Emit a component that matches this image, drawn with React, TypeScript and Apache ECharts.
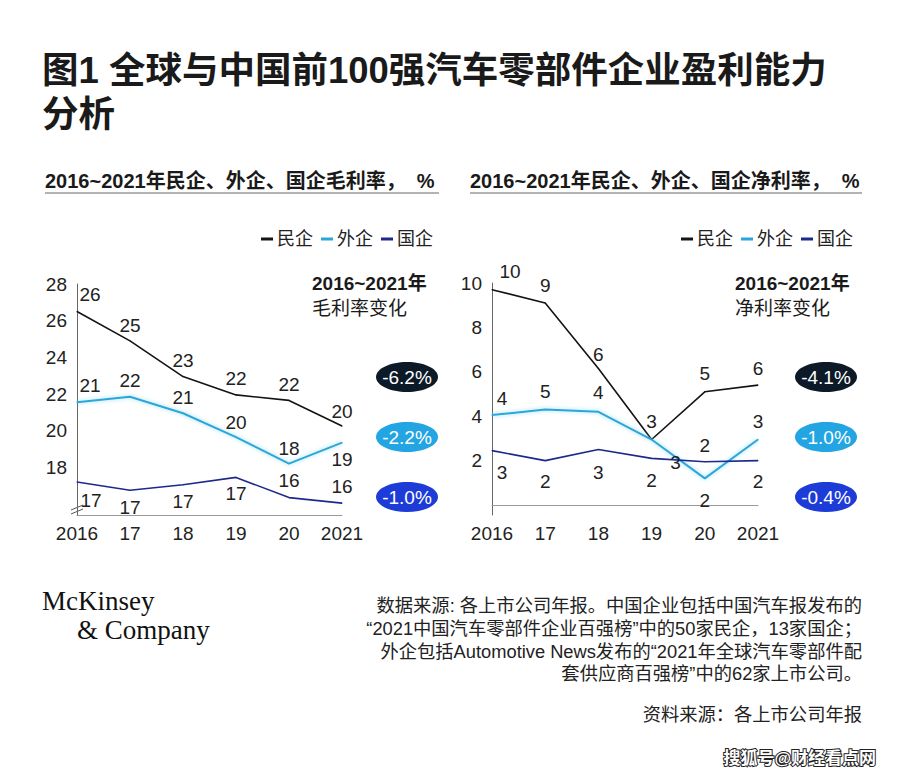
import React, { useEffect, useRef } from "react";
import * as echarts from "echarts";

const years = ["2016", "17", "18", "19", "20", "2021"];

// 毛利率 (gross margin), %
const grossPrivate = [26.5, 24.9, 22.95, 21.95, 21.65, 20.25];
const grossForeign = [21.55, 21.85, 20.95, 19.65, 18.2, 19.35];
const grossState = [17.2, 16.75, 17.05, 17.45, 16.35, 16.05];
const grossPrivateLabels = ["26", "25", "23", "22", "22", "20"];
const grossForeignLabels = ["21", "22", "21", "20", "18", "19"];
const grossStateLabels = ["17", "17", "17", "17", "16", "16"];

// 净利率 (net margin), %
const netPrivate = [9.7, 9.1, 6.15, 2.95, 5.1, 5.4];
const netForeign = [4.05, 4.3, 4.2, 2.95, 1.2, 2.95];
const netState = [2.45, 2.0, 2.5, 2.1, 1.95, 2.0];
const netPrivateLabels = ["10", "9", "6", "3", "5", "6"];
const netForeignLabels = ["4", "5", "4", "3", "2", "3"];
const netStateLabels = ["3", "2", "3", "2", "2", "2"];

const grossChange = ["-6.2%", "-2.2%", "-1.0%"];
const netChange = ["-4.1%", "-1.0%", "-0.4%"];

const grossTicks = [18, 20, 22, 24, 26, 28];
const netTicks = [2, 4, 6, 8, 10];

const seriesNames = ["民企", "外企", "国企"];

// label offsets (layout only)
const offGP = [[13, -17], [0, -15], [0, -16], [0, -16], [0, -16], [0, -15]];
const offGF = [[13, -17], [0, -16], [0, -16], [0, -15], [0, -15], [0, 17]];
const offGS = [[14, 18], [0, 17], [0, 17], [0, 16], [0, -17], [0, -17]];
const offNP = [[18, -18], [0, -17], [0, -14], [0, -18], [0, -18], [0, -17]];
const offNF = [[10, -17], [0, -18], [0, -19], [24, 23], [0, 22], [0, -18]];
const offNS = [[10, 22], [0, 21], [0, 23], [0, 22], [0, -16], [0, 21]];

const COLORS = ["#141414", "#2ba6d8", "#1d2a8c"];
const BADGE = ["#0c1a28", "#22a5e2", "#1d3bd6"];
const LATIN = '"Liberation Sans", Arial, "Noto Sans CJK SC", sans-serif';
const CJK = '"Liberation Sans", "Noto Sans CJK SC", sans-serif';
const SERIF = '"Liberation Serif", "DejaVu Serif", serif';

function makeSeries(
  name: string,
  values: number[],
  labels: string[],
  offs: number[][],
  idx: number,
  color: string,
  cyan: boolean
) {
  return {
    name,
    type: "line",
    xAxisIndex: idx,
    yAxisIndex: idx,
    symbol: "circle",
    symbolSize: 1,
    silent: true,
    emphasis: { disabled: true },
    itemStyle: { color },
    lineStyle: cyan
      ? { color, width: 2, shadowColor: "rgba(120,210,240,0.8)", shadowBlur: 4 }
      : { color, width: 1.6 },
    data: values.map((v, i) => ({
      value: v,
      label: { offset: offs[i] },
    })),
    label: {
      show: true,
      position: "inside",
      fontSize: 19,
      color: "#222",
      fontFamily: LATIN,
      formatter: (p: any) => labels[p.dataIndex],
    },
  };
}

function badge(cx: number, cy: number, color: string, text: string) {
  return {
    type: "group",
    children: [
      { type: "ellipse", shape: { cx, cy, rx: 31, ry: 15 }, style: { fill: color } },
      {
        type: "text",
        x: cx,
        y: cy,
        style: {
          text,
          fill: "#fff",
          fontSize: 19,
          fontFamily: LATIN,
          align: "center",
          verticalAlign: "middle",
        },
      },
    ],
  };
}

function txt(x: number, y: number, text: string, extra: any = {}) {
  return {
    type: "text",
    x,
    y,
    style: {
      text,
      fill: "#1a1a1a",
      fontFamily: CJK,
      verticalAlign: "middle",
      ...extra,
    },
  };
}

export default function App() {
  const ref = useRef<HTMLDivElement>(null);
  useEffect(() => {
    const chart = echarts.init(ref.current!, null, { renderer: "svg" });
    const axisX = (i: number) => ({
      gridIndex: i,
      type: "category",
      data: years,
      boundaryGap: false,
      axisLine: { lineStyle: { color: "#9a9a9a", width: 1 } },
      axisTick: { show: false },
      axisLabel: {
        fontSize: 19,
        color: "#222",
        margin: 9,
        fontFamily: LATIN,
        interval: 0,
        hideOverlap: false,
      },
    });
    const legend = (right: number) => ({
      right,
      top: 225,
      icon: "rect",
      itemWidth: 12,
      itemHeight: 3,
      itemGap: 8,
      selectedMode: false,
      data: seriesNames,
      textStyle: { fontSize: 18, color: "#222", fontFamily: CJK, padding: [0, 0, 0, -1] },
    });
    const option: any = {
      animation: false,
      backgroundColor: "#fff",
      grid: [
        { left: 77, top: 284, width: 265, height: 231 },
        { left: 492, top: 283, width: 266, height: 232 },
      ],
      xAxis: [axisX(0), axisX(1)],
      yAxis: [
        {
          gridIndex: 0,
          type: "value",
          min: 15.4,
          max: 28,
          splitLine: { show: false },
          axisLine: { show: true, lineStyle: { color: "#666" } },
          axisTick: { show: false },
          axisLabel: { customValues: grossTicks, fontSize: 19, color: "#222", margin: 10, fontFamily: LATIN },
        },
        {
          gridIndex: 1,
          type: "value",
          min: -0.45,
          max: 10,
          splitLine: { show: false },
          axisLine: { show: true, lineStyle: { color: "#666" } },
          axisTick: { show: false },
          axisLabel: { customValues: netTicks, fontSize: 19, color: "#222", margin: 10, fontFamily: LATIN },
        },
      ],
      legend: [legend(462), legend(42)],
      series: [
        makeSeries(seriesNames[0], grossPrivate, grossPrivateLabels, offGP, 0, COLORS[0], false),
        makeSeries(seriesNames[1], grossForeign, grossForeignLabels, offGF, 0, COLORS[1], true),
        makeSeries(seriesNames[2], grossState, grossStateLabels, offGS, 0, COLORS[2], false),
        makeSeries(seriesNames[0], netPrivate, netPrivateLabels, offNP, 1, COLORS[0], false),
        makeSeries(seriesNames[1], netForeign, netForeignLabels, offNF, 1, COLORS[1], true),
        makeSeries(seriesNames[2], netState, netStateLabels, offNS, 1, COLORS[2], false),
      ],
      graphic: [
        txt(42, 70, "图1 全球与中国前100强汽车零部件企业盈利能力", { fontSize: 36.5, fontWeight: "bold" }),
        txt(42, 114, "分析", { fontSize: 36.5, fontWeight: "bold" }),
        txt(45, 181, "2016~2021年民企、外企、国企毛利率，  %", { fontSize: 20, fontWeight: "bold" }),
        txt(470, 181, "2016~2021年民企、外企、国企净利率，  %", { fontSize: 20, fontWeight: "bold" }),
        { type: "line", shape: { x1: 45, y1: 193, x2: 439, y2: 193 }, style: { stroke: "#9a9a9a", lineWidth: 1.5 } },
        { type: "line", shape: { x1: 470, y1: 193, x2: 862, y2: 193 }, style: { stroke: "#9a9a9a", lineWidth: 1.5 } },
        txt(312, 283, "2016~2021年", { fontSize: 19, fontWeight: "bold" }),
        txt(312, 308, "毛利率变化", { fontSize: 19 }),
        txt(735, 283, "2016~2021年", { fontSize: 19, fontWeight: "bold" }),
        txt(735, 308, "净利率变化", { fontSize: 19 }),
        badge(407, 377, BADGE[0], grossChange[0]),
        badge(407, 437, BADGE[1], grossChange[1]),
        badge(407, 497, BADGE[2], grossChange[2]),
        badge(826, 377, BADGE[0], netChange[0]),
        badge(826, 437, BADGE[1], netChange[1]),
        badge(826, 497, BADGE[2], netChange[2]),
        { type: "line", shape: { x1: 71, y1: 510, x2: 83, y2: 505 }, style: { stroke: "#555", lineWidth: 1 } },
        { type: "line", shape: { x1: 71, y1: 514, x2: 83, y2: 509 }, style: { stroke: "#555", lineWidth: 1 } },
        txt(42, 601, "McKinsey", { fontSize: 27, fontFamily: SERIF, fill: "#111" }),
        txt(77, 630, "& Company", { fontSize: 27, fontFamily: SERIF, fill: "#111" }),
        txt(862, 605, "数据来源: 各上市公司年报。中国企业包括中国汽车报发布的", { fontSize: 18.3, align: "right", fill: "#222" }),
        txt(862, 628, "“2021中国汽车零部件企业百强榜”中的50家民企，13家国企；", { fontSize: 18.3, align: "right", fill: "#222" }),
        txt(862, 651, "外企包括Automotive News发布的“2021年全球汽车零部件配", { fontSize: 18.3, align: "right", fill: "#222" }),
        txt(862, 673, "套供应商百强榜”中的62家上市公司。", { fontSize: 18.3, align: "right", fill: "#222" }),
        txt(862, 714, "资料来源：各上市公司年报", { fontSize: 18.3, align: "right", fill: "#222" }),
        txt(876, 758, "搜狐号@财经看点网", {
          fontSize: 17,
          fontWeight: "bold",
          align: "right",
          fill: "#fff",
          stroke: "#222",
          lineWidth: 2,
        }),
      ],
    };
    chart.setOption(option);
    return () => chart.dispose();
  }, []);
  return (
    <div
      ref={ref}
      style={{ position: "absolute", left: 0, top: 0, width: 900, height: 780, background: "#fff" }}
    />
  );
}
